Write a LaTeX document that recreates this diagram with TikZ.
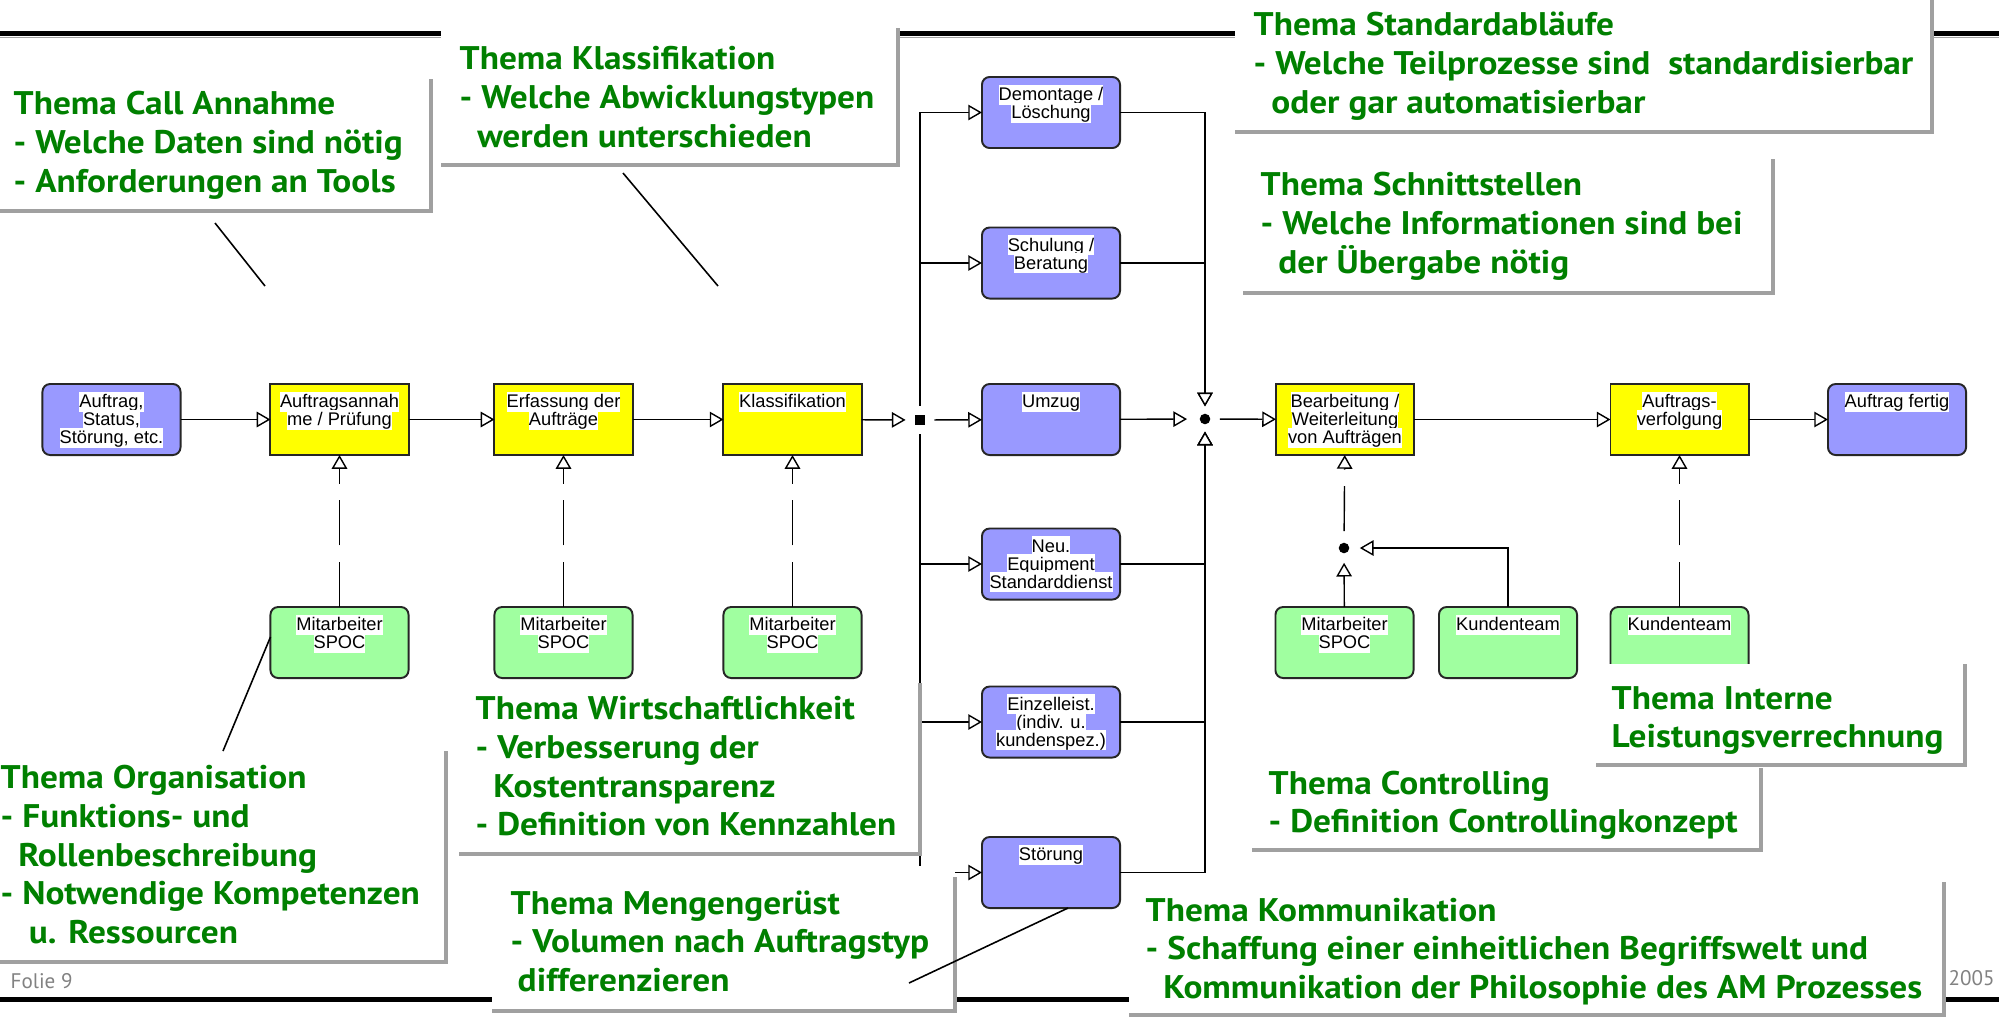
\documentclass[tikz,border=0pt]{standalone}
\usepackage{fontspec}
\setmainfont{Liberation Sans}
\newfontfamily\themefont{PT Sans}[FakeStretch=1.08]
\newfontfamily\footfont{PT Sans}
\usetikzlibrary{arrows.meta}
\definecolor{procblue}{RGB}{153,153,255}
\definecolor{procyellow}{RGB}{255,255,0}
\definecolor{rolegreen}{RGB}{160,255,160}
\definecolor{themegreen}{RGB}{0,128,0}
\definecolor{edgegray}{RGB}{160,160,160}
\definecolor{footgray}{RGB}{130,130,130}
\setlength{\fboxsep}{0pt}
% small tight font for the box labels
\newcommand\boxfont{\fontsize{5.2}{5.1}\selectfont
  \setlength{\lineskiplimit}{-10pt}\setlength{\lineskip}{0pt}}
% one line of box text on a white ground
\newcommand\wl[1]{\colorbox{white}{\rule[-1.1pt]{0pt}{5.7pt}#1}}
% process box: name, style, centre x, centre y, text
\newcommand\pbox[5]{%
  \node[#2] (#1) at (#3,#4) {};
  \node[boxtext] (#1-t) at (#3,{#4-28.5}) {#5};}
% topic panel: white field with grey edge on the right and bottom
\newcommand\panel[4]{%
  \fill[white] (#1,#2) rectangle (#3,#4);
  \draw[paneledge] (#1,#4) -- (#3,#4) -- (#3,#2);}
\begin{document}
\begin{tikzpicture}[x=0.01cm,y=-0.01cm,
  box/.style={draw=black!85, line width=0.55pt, minimum width=1.38cm,
    minimum height=0.71cm, inner sep=0pt, outer sep=0pt},
  eventbox/.style={box, fill=procblue, rounded corners=2.2pt},
  funcbox/.style={box, fill=procyellow},
  rolebox/.style={box, fill=rolegreen, rounded corners=2.2pt},
  boxtext/.style={anchor=north, align=center, inner sep=0pt, font=\boxfont},
  flow/.style={line width=0.4pt, -{Triangle[length=3.9pt,width=4.4pt,fill=white]}},
  assign/.style={flow, dash pattern=on 12.8pt off 4.7pt},
  joint/.style={circle, fill=black, inner sep=0pt, minimum size=3pt},
  splitter/.style={rectangle, fill=black, inner sep=0pt, minimum size=3pt},
  paneledge/.style={draw=edgegray, line width=1.1pt},
  % anchored at the baseline of the last line
  theme/.style={anchor=base west, align=left, inner sep=0pt, text=themegreen,
    font=\themefont\bfseries\fontsize{9.3}{10.95}\selectfont},
  leader/.style={line width=0.45pt},
  rule/.style={line width=1.45pt},
  foot/.style={anchor=base west, inner sep=0pt, text=footgray,
    font=\footfont\fontsize{6}{7}\selectfont}]

\useasboundingbox (0,0) rectangle (1999,1017);
\fill[white] (0,0) rectangle (1999,1017);

% page rules
\draw[rule] (0,33.5) -- (1999,33.5);
\draw[edgegray, line width=0.4pt] (0,37.5) -- (1999,37.5);
\draw[rule] (0,999.5) -- (1999,999.5);
\node[foot] (folie) at (10,988) {Folie 9};
\node[foot] (year) at (1948,985) {2005};

% main chain
\pbox{auftrag}{eventbox}{111.5}{419.5}{\wl{Auftrag,}\\\wl{Status,}\\\wl{Störung, etc.}}
\pbox{annahme}{funcbox}{339.5}{419.5}{\wl{Auftragsannah}\\\wl{me / Prüfung}}
\pbox{erfassung}{funcbox}{563.5}{419.5}{\wl{Erfassung der}\\\wl{Aufträge}}
\pbox{klass}{funcbox}{792.5}{419.5}{\wl{Klassifikation}}
\pbox{umzug}{eventbox}{1051}{419.5}{\wl{Umzug}}
\pbox{bearb}{funcbox}{1345}{419.5}{\wl{Bearbeitung /}\\\wl{Weiterleitung}\\\wl{von Aufträgen}}
\pbox{verf}{funcbox}{1679.5}{419.5}{\wl{Auftrags-}\\\wl{verfolgung}}
\pbox{fertig}{eventbox}{1897}{419.5}{\wl{Auftrag fertig}}

% order types
\pbox{demo}{eventbox}{1051}{112.5}{\wl{Demontage /}\\\wl{Löschung}}
\pbox{schul}{eventbox}{1051}{263}{\wl{Schulung /}\\\wl{Beratung}}
\pbox{neu}{eventbox}{1051}{564}{\wl{Neu.}\\\wl{Equipment}\\\wl{Standarddienst}}
\pbox{einzel}{eventbox}{1051}{722}{\wl{Einzelleist.}\\\wl{(indiv. u.}\\\wl{kundenspez.)}}
\pbox{stoer}{eventbox}{1051}{872.5}{\wl{Störung}}

% roles
\pbox{spoc1}{rolebox}{339.5}{642.5}{\wl{Mitarbeiter}\\\wl{SPOC}}
\pbox{spoc2}{rolebox}{563.5}{642.5}{\wl{Mitarbeiter}\\\wl{SPOC}}
\pbox{spoc3}{rolebox}{792.5}{642.5}{\wl{Mitarbeiter}\\\wl{SPOC}}
\pbox{spoc4}{rolebox}{1344.5}{642.5}{\wl{Mitarbeiter}\\\wl{SPOC}}
\pbox{kt1}{rolebox}{1508}{642.5}{\wl{Kundenteam}}
\pbox{kt2}{rolebox}{1679.5}{642.5}{\wl{Kundenteam}}

% connectors
\node[splitter] (split) at (920,420) {};
\node[joint] (join) at (1205,419) {};
\node[joint] (merge) at (1344,548) {};

\draw[flow] (auftrag) -- (annahme);
\draw[flow] (annahme) -- (erfassung);
\draw[flow] (erfassung) -- (klass);
\draw[flow, shorten >=2.4pt] (klass) -- (split);
\draw[flow, shorten <=2.4pt] (split) -- (umzug);
\foreach \t in {demo,schul,neu,einzel,stoer}
  \draw[flow, shorten <=2.4pt] (split) |- (\t);
\draw[flow, shorten >=3.4pt] (umzug) -- (join);
\foreach \s in {demo,schul,neu,einzel,stoer}
  \draw[flow, shorten >=1.9pt] (\s) -| (join);
\draw[flow, shorten <=2.5pt] (join) -- (bearb);
\draw[flow] (bearb) -- (verf);
\draw[flow] (verf) -- (fertig);

\draw[assign] (spoc1) -- (annahme);
\draw[assign] (spoc2) -- (erfassung);
\draw[assign] (spoc3) -- (klass);
\draw[assign] (kt2) -- (verf);
\draw[flow, shorten >=2.5pt] (spoc4) -- (merge);
\draw[flow, shorten >=2.8pt] (kt1) |- (merge);
\draw[assign, shorten <=3.1pt] (merge) -- (bearb);

% topic panels
\panel{0}{79}{431}{211}
\node[theme] (th-call) at (13,192) {Thema Call Annahme\\- Welche Daten sind nötig\\- Anforderungen an Tools};
\panel{441}{28}{898}{165}
\node[theme] (th-klass) at (459,147) {Thema Klassifikation\\- Welche Abwicklungstypen\\\hspace*{5pt}werden unterschieden};
\panel{1235}{0}{1932}{132}
\node[theme] (th-std) at (1253,113) {Thema Standardabläufe\\- Welche Teilprozesse sind\ \ standardisierbar\\\hspace*{5pt}oder gar automatisierbar};
\panel{1243}{159}{1773}{293}
\node[theme] (th-schnitt) at (1260,273) {Thema Schnittstellen\\- Welche Informationen sind bei\\\hspace*{5pt}der Übergabe nötig};
\panel{0}{751}{446}{962}
\node[theme] (th-org) at (0,943) {Thema Organisation\\- Funktions- und\\\hspace*{5pt}Rollenbeschreibung\\- Notwendige Kompetenzen\\\hspace*{8pt}u. Ressourcen};
\panel{459}{683}{920}{854}
\node[theme] (th-wirt) at (475,835.5) {Thema Wirtschaftlichkeit\\- Verbesserung der\\\hspace*{5pt}Kostentransparenz\\- Definition von Kennzahlen};
% this panel's white field reaches a little higher than its edge
\fill[white] (492,866) rectangle (955,877);
\panel{492}{877}{955}{1011}
\node[theme] (th-menge) at (510,991) {Thema Mengengerüst\\- Volumen nach Auftragstyp\\\hspace*{2pt}differenzieren};
\panel{1596}{664}{1965}{765}
\node[theme] (th-intern) at (1611,747.5) {Thema Interne\\Leistungsverrechnung};
\panel{1252}{768}{1761}{850}
\node[theme] (th-ctrl) at (1268,832.5) {Thema Controlling\\- Definition Controllingkonzept};
\panel{1129}{882}{1944}{1015}
\node[theme] (th-komm) at (1145,998) {Thema Kommunikation\\- Schaffung einer einheitlichen Begriffswelt und\\\hspace*{5pt}Kommunikation der Philosophie des AM Prozesses};

% leader lines from the panels to the process
\coordinate (call-a) at (215,223);
\coordinate (call-b) at (265,286);
\coordinate (klass-a) at (623,173);
\coordinate (klass-b) at (718,286);
\coordinate (org-a) at (223,751);
\coordinate (menge-a) at (909,983);
\draw[leader] (call-a) -- (call-b);
\draw[leader] (klass-a) -- (klass-b);
\draw[leader] (org-a) -- (spoc1.west |- 0,637);
\draw[leader] (menge-a) -- (stoer.south -| 1068,0);
\end{tikzpicture}
\end{document}
